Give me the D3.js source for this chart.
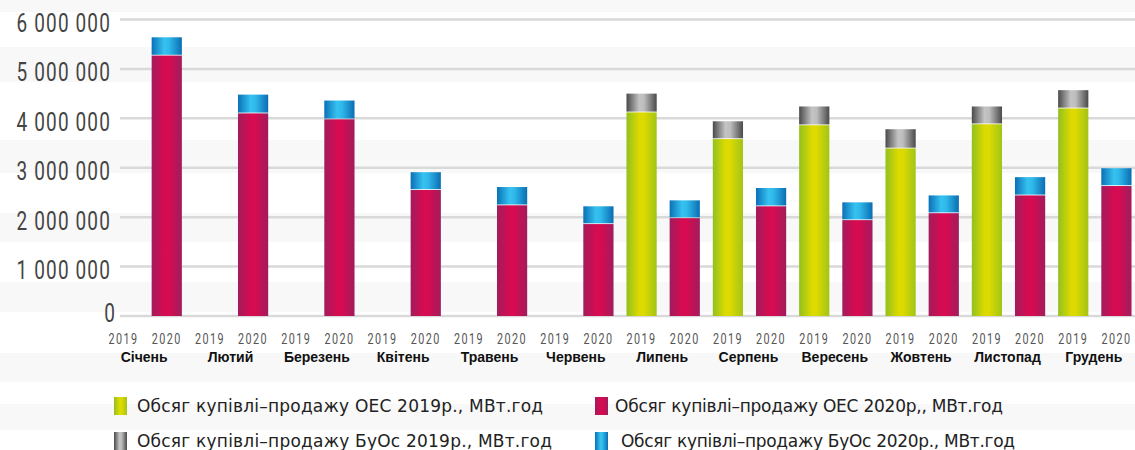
<!DOCTYPE html>
<html>
<head>
<meta charset="utf-8">
<script src="https://cdn.jsdelivr.net/npm/d3@7"></script>
<style>
  body { margin: 0; background: #fff; }
  svg { display: block; }
  .ytick { font-family: Roboto, sans-serif; font-size: 25px; fill: #444; letter-spacing: 1.5px; }
  .year { font-family: Roboto, sans-serif; font-size: 15px; fill: #555; letter-spacing: 2px; }
  .month { font-family: "Liberation Sans", Arial, sans-serif; font-size: 14px; font-weight: bold; fill: #111; }
  .legend text { font-family: "DejaVu Sans", sans-serif; font-size: 17px; fill: #222; }
</style>
</head>
<body>
<svg></svg>
<script>
// --- data (MWh) ---
const months = ["Січень", "Лютий", "Березень", "Квітень", "Травень", "Червень",
                "Липень", "Серпень", "Вересень", "Жовтень", "Листопад", "Грудень"];
const years = ["2019", "2020"];
const oes2019  = [0, 0, 0, 0, 0, 0, 4120000, 3580000, 3860000, 3390000, 3880000, 4200000];
const buos2019 = [0, 0, 0, 0, 0, 0,  380000,  360000,  380000,  390000,  360000,  370000];
const oes2020  = [5270000, 4100000, 3980000, 2550000, 2240000, 1860000, 1980000, 2220000, 1940000, 2080000, 2440000, 2630000];
const buos2020 = [ 370000,  380000,  380000,  360000,  370000,  360000,  360000,  370000,  360000,  360000,  370000,  360000];
const yTicks = [0, 1000000, 2000000, 3000000, 4000000, 5000000, 6000000];
const legendLabels = [
  "Обсяг купівлі–продажу ОЕС 2019р., МВт.год",
  "Обсяг купівлі–продажу ОЕС 2020р,, МВт.год",
  "Обсяг купівлі–продажу БуОс 2019р., МВт.год",
  "Обсяг купівлі–продажу БуОс 2020р., МВт.год"
];

const width = 1135, height = 450;
const svg = d3.select("svg").attr("width", width).attr("height", height);

// gradients
const defs = svg.append("defs");
const grads = {
  oes2019:  ["#92c01f", "#dcda00", "#dcda00", "#a2c418"],
  oes2020:  ["#a11c5c", "#d60b51", "#d60b51", "#a11c5c"],
  buos2019: ["#4a4a4a", "#c4c4c4", "#bdbdbd", "#4a4a4a"],
  buos2020: ["#0a70b7", "#36c2f0", "#2fb8ea", "#0a6db3"]
};
Object.entries(grads).forEach(([id, cols]) => {
  let g = defs.append("linearGradient").attr("id", id)
    .attr("x1", 0).attr("x2", 1).attr("y1", 0).attr("y2", 0);
  [0, 0.42, 0.58, 1].forEach((o, i) => g.append("stop").attr("offset", o).attr("stop-color", cols[i]));
});

// background stripes (decor)
const stripes = [[0, 12], [47, 82], [140, 173], [213, 242], [282, 312], [353, 382], [404, 430]];
svg.append("g").selectAll("rect").data(stripes).enter().append("rect")
  .attr("x", 0).attr("width", width)
  .attr("y", d => d[0]).attr("height", d => d[1] - d[0])
  .attr("fill", "#f8f8f8");

// scales
let y = d3.scaleLinear().domain([0, 6000000]).range([316, 19.5]);
let x0 = d3.scaleBand().domain(months).range([102, 1138]);
let x1 = d3.scaleBand().domain(years).range([0, x0.bandwidth()]).paddingInner(0.3).paddingOuter(0.15);

// grid
svg.append("g").selectAll("line").data(yTicks).enter().append("line")
  .attr("x1", 120).attr("x2", width)
  .attr("y1", d => y(d)).attr("y2", d => y(d))
  .attr("stroke", "#d9d9d9").attr("stroke-width", 2.5);

// y labels (condensed by horizontal scaling)
const fmt = v => d3.format(",")(v).replace(/,/g, " ");
svg.append("g").selectAll("text").data(yTicks).enter().append("text")
  .attr("class", "ytick")
  .attr("text-anchor", "end")
  .attr("transform", d => "translate(" + (d === 0 ? 116 : 111) + "," + (y(d) + (d === 0 ? 6 : 12.5)) + ") scale(0.76,1)")
  .text(fmt);

// bars
let segs = [];
months.forEach((m, i) => {
  [["2019", oes2019[i], buos2019[i], "oes2019", "buos2019"],
   ["2020", oes2020[i], buos2020[i], "oes2020", "buos2020"]].forEach(([yr, a, b, ga, gb]) => {
    if (a > 0) {
      segs.push({m, yr, y0: 0, y1: a, g: ga});
      segs.push({m, yr, y0: a, y1: a + b, g: gb});
    }
  });
});
svg.append("g").selectAll("rect").data(segs).enter().append("rect")
  .attr("x", d => x0(d.m) + x1(d.yr))
  .attr("width", x1.bandwidth())
  .attr("y", d => y(d.y1))
  .attr("height", d => y(d.y0) - y(d.y1) - (d.y0 > 0 ? 0.8 : 0))
  .attr("fill", d => "url(#" + d.g + ")");

// x labels
let xg = svg.append("g");
months.forEach(m => {
  years.forEach(yr => {
    xg.append("text").attr("class", "year").attr("text-anchor", "middle")
      .attr("transform", "translate(" + (x0(m) + x1(yr) + x1.bandwidth() / 2) + ",344) scale(0.72,1)")
      .text(yr);
  });
  xg.append("text").attr("class", "month").attr("text-anchor", "middle")
    .attr("x", x0(m) + x0.bandwidth() / 2 - 1)
    .attr("y", 362).text(m);
});

// legend
const legendKeys = ["oes2019", "oes2020", "buos2019", "buos2020"];
const legPos = [[114, 397, 137, 406], [595, 397, 615, 388], [114, 432, 137, 415], [595, 432, 621, 394]];
let lg = svg.append("g").attr("class", "legend");
legendKeys.forEach((k, i) => {
  let p = legPos[i];
  lg.append("rect").attr("x", p[0]).attr("y", p[1]).attr("width", 13).attr("height", 18)
    .attr("fill", "url(#" + k + ")");
  lg.append("text").attr("x", p[2]).attr("y", p[1] + 15)
    .attr("textLength", p[3]).attr("lengthAdjust", "spacing")
    .text(legendLabels[i]);
});
</script>
</body>
</html>
